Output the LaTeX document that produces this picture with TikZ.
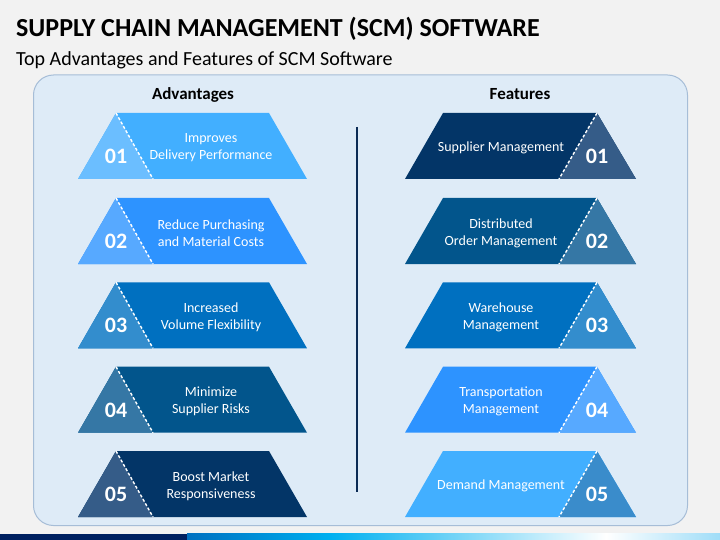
\documentclass[tikz,border=0pt]{standalone}
\usepackage{fontspec}
\setmainfont{Carlito}
\definecolor{bgc}{HTML}{F2F2F2}
\definecolor{panelfill}{HTML}{DEEBF7}
\definecolor{panelline}{HTML}{A6BDD7}
\definecolor{cA}{HTML}{42AFFF}
\definecolor{cAt}{HTML}{6BBEFF}
\definecolor{cB}{HTML}{2D93FF}
\definecolor{cBt}{HTML}{57A9FF}
\definecolor{cC}{HTML}{0070C0}
\definecolor{cCt}{HTML}{338DCD}
\definecolor{cD}{HTML}{02558C}
\definecolor{cDt}{HTML}{3577A5}
\definecolor{cE}{HTML}{033567}
\definecolor{cEt}{HTML}{355C88}
\definecolor{cFt}{HTML}{3A8CCB}
\definecolor{navy}{HTML}{002060}
\definecolor{divc}{HTML}{0B2B55}
\definecolor{barcyan}{HTML}{00B0F0}
\definecolor{barlight}{HTML}{9FDDF8}
\tikzset{
  rowtext/.style={text=white,align=center,inner sep=0pt,font=\fontsize{14}{16.8}\selectfont},
  numtext/.style={text=white,inner sep=0pt,font=\fontsize{22}{24}\selectfont\bfseries},
  sepline/.style={white,line width=1.4pt,dash pattern=on 3pt off 2pt},
  headtext/.style={inner sep=0pt,font=\fontsize{17}{19}\selectfont\bfseries,anchor=base},
}
\newcommand\advrow[6]{%
  \fill[#2] (116,#1) -- (269,#1) -- (307,#1+66) -- (78,#1+66) -- cycle;
  \fill[#3] (116,#1) -- (153,#1+66) -- (78,#1+66) -- cycle;
  \draw[sepline] (116,#1) -- (153,#1+66);
  \node[numtext] (an#4) at (116,#1+43.5) {#4};
  \node[rowtext] (at#4) at (211,#1+35) {#5};
}
\newcommand\featrow[6]{%
  \fill[#2] (443,#1) -- (597,#1) -- (636,#1+66) -- (405,#1+66) -- cycle;
  \fill[#3] (597,#1) -- (636,#1+66) -- (559,#1+66) -- cycle;
  \draw[sepline] (597,#1) -- (559,#1+66);
  \node[numtext] (fn#4) at (597,#1+43.5) {#4};
  \node[rowtext] (ft#4) at (501,#1+35) {#5};
}
\begin{document}
\begin{tikzpicture}[x=1pt,y=-1pt]
\useasboundingbox (0,0) rectangle (720,540);
\fill[bgc] (0,0) rectangle (720,540);
\node[anchor=base west,inner sep=0pt,font=\fontsize{26}{30}\selectfont\bfseries] (title) at (16,36.7) {SUPPLY CHAIN MANAGEMENT (SCM) SOFTWARE};
\node[anchor=base west,inner sep=0pt,font=\fontsize{20}{24}\selectfont] (subtitle) at (16,66) {Top Advantages and Features of SCM Software};
\draw[panelline,fill=panelfill,line width=1pt,rounded corners=20pt] (33.5,75) rectangle (687.5,525.5);
\node[headtext] (hadv) at (193,99.5) {Advantages};
\node[headtext] (hfeat) at (520,99.5) {Features};
\draw[divc,line width=1.5pt] (357,127) -- (357,492);
\advrow{113}{cA}{cAt}{01}{Improves\\Delivery Performance}{}
\advrow{198}{cB}{cBt}{02}{Reduce Purchasing\\and Material Costs}{}
\advrow{282.3}{cC}{cCt}{03}{Increased\\Volume Flexibility}{}
\advrow{366.7}{cD}{cDt}{04}{Minimize\\Supplier Risks}{}
\advrow{451}{cE}{cEt}{05}{Boost Market\\Responsiveness}{}
\featrow{113}{cE}{cEt}{01}{Supplier Management}{}
\featrow{198}{cD}{cDt}{02}{Distributed\\Order Management}{}
\featrow{282.3}{cC}{cCt}{03}{Warehouse\\Management}{}
\featrow{366.7}{cB}{cBt}{04}{Transportation\\Management}{}
\featrow{451}{cA}{cFt}{05}{Demand Management}{}
% bottom bar
\fill[navy] (0,533.7) rectangle (187.5,540);
\shade[left color=cC,right color=barcyan] (187,533.7) rectangle (330.5,540);
\shade[left color=barcyan,right color=white] (330,533.7) rectangle (606.5,540);
\shade[left color=white,right color=barlight] (606,533.7) rectangle (720,540);
\end{tikzpicture}
\end{document}
